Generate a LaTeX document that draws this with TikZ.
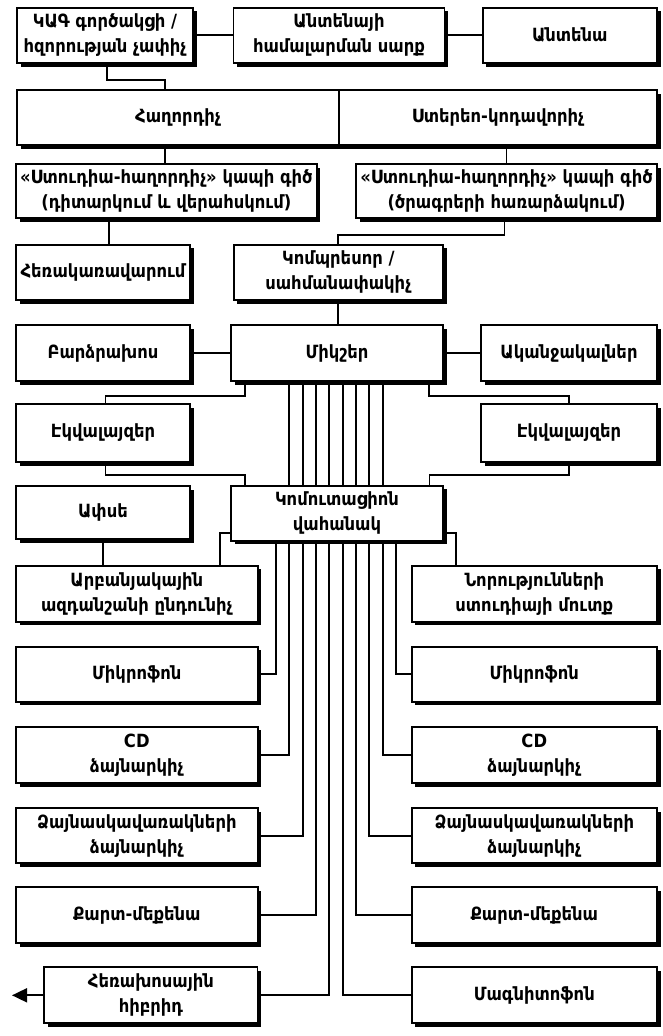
\documentclass[tikz,border=0pt]{standalone}
\usepackage{fontspec}
\setmainfont{DejaVu Sans Bold}[FakeStretch=0.9]
\usetikzlibrary{shadows,backgrounds,arrows.meta}

\begin{document}
\begin{tikzpicture}[x=1pt,y=-1pt,
  blk/.style={draw, line width=1.9pt, fill=white, inner sep=0pt, align=center,
    font=\fontsize{18.2}{25}\selectfont,
    drop shadow={shadow xshift=3.5pt, shadow yshift=-3.5pt, opacity=1, fill=black}},
  sz/.style 2 args={minimum width=#1pt, minimum height=#2pt},
  wire/.style={line width=1.8pt}]
\useasboundingbox (0,0) rectangle (662,1036);

% top row
\node[blk, sz={176}{55.5}] (kag) at (105,35.3) {ԿԱԳ գործակցի /\\հզորության չափիչ};
\node[blk, sz={211}{55.5}] (tuner) at (339,35.3) {Անտենայի\\համալարման սարք};
\node[blk, sz={174.5}{55.5}] (ant) at (569.8,35.3) {Անտենա};

% transmitter / stereo coder
\node[blk, sz={322}{55}] (tx) at (178,117.5) {Հաղորդիչ};
\node[blk, sz={318}{55}] (coder) at (498,117.5) {Ստերեո-կոդավորիչ};

% studio links
\node[blk, sz={300.5}{54}] (linkL) at (166.3,191) {«Ստուդիա-հաղորդիչ» կապի գիծ\\(դիտարկում և վերահսկում)};
\node[blk, sz={301}{54}] (linkR) at (506.5,191) {«Ստուդիա-հաղորդիչ» կապի գիծ\\(ծրագրերի հառարձակում)};

\node[blk, sz={174}{55.5}] (remote) at (103,272.3) {Հեռակառավարում};
\node[blk, sz={209.5}{55.5}] (comp) at (338.3,272.3) {Կոմպրեսոր /\\սահմանափակիչ};

% mixer row
\node[blk, sz={174}{56}] (spk) at (103,353) {Բարձրախոս};
\node[blk, sz={212}{56}] (mixer) at (337,353) {Միկշեր};
\node[blk, sz={176}{56}] (phones) at (569,353) {Ականջակալներ};

\node[blk, sz={174}{58}] (eqL) at (103,433) {Էկվալայզեր};
\node[blk, sz={176}{58}] (eqR) at (569,433) {Էկվալայզեր};

\node[blk, sz={174}{53}] (dish) at (103,512.5) {Ափսե};
\node[blk, sz={212}{54.7}] (panel) at (337,513.3) {Կոմուտացիոն\\վահանակ};

% sources
\node[blk, sz={241.5}{55.7}] (sat) at (136.8,593.8) {Արբանյակային\\ազդանշանի ընդունիչ};
\node[blk, sz={245.4}{55.7}] (news) at (534.3,593.8) {Նորությունների\\ստուդիայի մուտք};

\node[blk, sz={241.5}{55}] (micL) at (136.8,674.2) {Միկրոֆոն};
\node[blk, sz={245.4}{55}] (micR) at (534.3,674.2) {Միկրոֆոն};

\node[blk, sz={241.5}{56.6}] (cdL) at (136.8,755) {CD\\ձայնարկիչ};
\node[blk, sz={245.4}{56.6}] (cdR) at (534.3,755) {CD\\ձայնարկիչ};

\node[blk, sz={241.5}{55}] (discL) at (136.8,835.8) {Ձայնասկավառակների\\ձայնարկիչ};
\node[blk, sz={245.4}{55}] (discR) at (534.3,835.8) {Ձայնասկավառակների\\ձայնարկիչ};

\node[blk, sz={241.5}{56}] (cardL) at (136.8,915.3) {Քարտ-մեքենա};
\node[blk, sz={245.4}{56}] (cardR) at (534.3,915.3) {Քարտ-մեքենա};

\node[blk, sz={213.2}{56}] (hyb) at (150.9,995.3) {Հեռախոսային\\հիբրիդ};
\node[blk, sz={245.4}{56}] (tape) at (534.3,995.3) {Մագնիտոֆոն};

\coordinate (out) at (12,995.3);

\begin{scope}[on background layer]
  \draw[wire] (kag) -- (tuner);
  \draw[wire] (tuner) -- (ant);
  \draw[wire] (kag.south -| 107,0) |- (165,80) -- (tx.north -| 165,0);
  \draw[wire] (tx.south -| 165,0) -- (linkL.north -| 165,0);
  \draw[wire] (linkR.north) -- (linkR.north |- coder.south);
  \draw[wire] (linkL.south -| 109,0) -- (remote.north -| 109,0);
  \draw[wire] (linkR.south -| 504.5,0) |- (338.3,235) -- (comp.north);
  \draw[wire] (comp.south) -- (comp.south |- mixer.north);
  \draw[wire] (spk) -- (mixer);
  \draw[wire] (mixer) -- (phones);
  \draw[wire] (mixer.south -| 245,0) |- (105.5,396) -- (eqL.north -| 105.5,0);
  \draw[wire] (mixer.south -| 429,0) |- (568.7,396) -- (eqR.north -| 568.7,0);
  \draw[wire] (eqL.south -| 105.5,0) |- (245,475) -- (panel.north -| 245,0);
  \draw[wire] (eqR.south -| 568.7,0) |- (429.4,475) -- (panel.north -| 429.4,0);
  % bus between mixer and patch panel
  \foreach \i in {2,...,9} {
    \pgfmathsetmacro\bx{336+(\i-5.5)*13.33}
    \draw[wire] (mixer.south -| \bx,0) -- (panel.north -| \bx,0);
  }
  \draw[wire] (dish.south) -- (dish.south |- sat.north);
  \draw[wire] (panel.west |- 0,533) -| (sat.north -| 220,0);
  \draw[wire] (panel.east |- 0,533) -| (news.north -| 456,0);
  % bus from patch panel to sources
  \foreach \i/\t/\a in {1/micL/east,2/cdL/east,3/discL/east,4/cardL/east,5/hyb/east,
                        6/tape/west,7/cardR/west,8/discR/west,9/cdR/west,10/micR/west} {
    \pgfmathsetmacro\bx{336+(\i-5.5)*13.33}
    \draw[wire] (panel.south -| \bx,0) |- (\t.\a);
  }
  \draw[wire,-{Triangle[length=15pt,width=14pt]}] (hyb.west) -- (out);
\end{scope}
\end{tikzpicture}
\end{document}
